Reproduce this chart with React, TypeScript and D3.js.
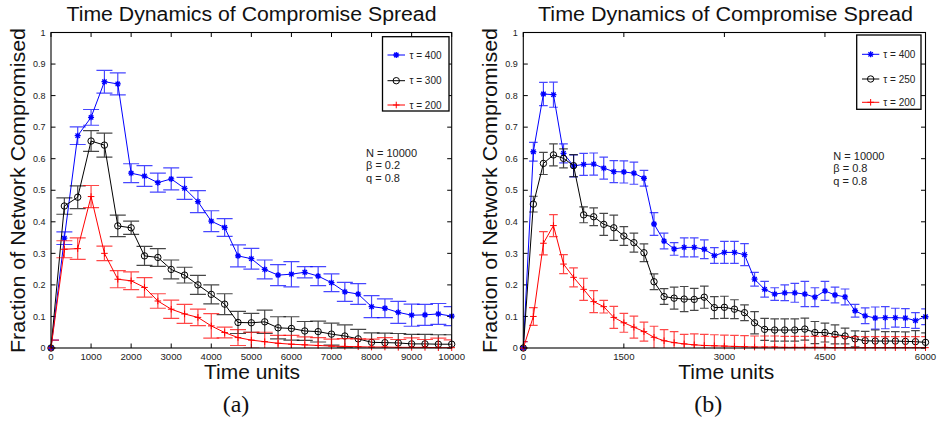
import React from "react";
import * as d3 from "d3";

// ---------- data ----------
const xTicksA = [0, 1000, 2000, 3000, 4000, 5000, 6000, 7000, 8000, 9000, 10000];
const xTicksB = [0, 1500, 3000, 4500, 6000];
const yTicks = [0, 0.1, 0.2, 0.3, 0.4, 0.5, 0.6, 0.7, 0.8, 0.9, 1];
const yTickLabels = ["0", "0.1", "0.2", "0.3", "0.4", "0.5", "0.6", "0.7", "0.8", "0.9", "1"];

const stepA = 10000 / 30;
const stepB = 150;

const blueA = [0, 0.348, 0.673, 0.731, 0.844, 0.837, 0.554, 0.545, 0.524, 0.536, 0.506, 0.464, 0.402, 0.382, 0.292, 0.283, 0.249, 0.231, 0.234, 0.240, 0.228, 0.207, 0.178, 0.171, 0.131, 0.126, 0.113, 0.104, 0.105, 0.108, 0.101];
const blueAErr = [0.025, 0.02, 0.028, 0.025, 0.036, 0.035, 0.03, 0.033, 0.03, 0.035, 0.035, 0.035, 0.033, 0.028, 0.035, 0.033, 0.03, 0.033, 0.04, 0.018, 0.03, 0.028, 0.03, 0.033, 0.035, 0.03, 0.035, 0.035, 0.033, 0.033, 0.03];
const blackA = [0, 0.450, 0.478, 0.656, 0.643, 0.387, 0.381, 0.292, 0.287, 0.249, 0.231, 0.200, 0.170, 0.139, 0.081, 0.080, 0.083, 0.064, 0.062, 0.054, 0.052, 0.044, 0.038, 0.029, 0.018, 0.017, 0.016, 0.013, 0.013, 0.012, 0.012];
const blackAErr = [0, 0.026, 0.036, 0.033, 0.038, 0.034, 0.021, 0.03, 0.028, 0.03, 0.025, 0.03, 0.03, 0.033, 0.035, 0.03, 0.037, 0.035, 0.037, 0.03, 0.033, 0.035, 0.035, 0.03, 0.03, 0.03, 0.03, 0.03, 0.03, 0.03, 0.03];
const redA = [0, 0.313, 0.315, 0.48, 0.300, 0.218, 0.213, 0.192, 0.149, 0.123, 0.108, 0.097, 0.070, 0.049, 0.033, 0.025, 0.020, 0.015, 0.012, 0.010, 0.008, 0.006, 0.005, 0.004, 0.003, 0.003, 0.002, 0.002, 0.002, 0.001, 0.001];
const redAErr = [0.025, 0.027, 0.034, 0.035, 0.023, 0.027, 0.028, 0.031, 0.023, 0.029, 0.03, 0.026, 0.039, 0.017, 0.025, 0.025, 0.03, 0.025, 0.028, 0.025, 0.025, 0.022, 0.025, 0.025, 0.025, 0.03, 0.025, 0.03, 0.025, 0.03, 0.025];

const blueB = [0, 0.622, 0.805, 0.803, 0.617, 0.577, 0.582, 0.583, 0.570, 0.559, 0.558, 0.554, 0.538, 0.393, 0.339, 0.314, 0.319, 0.319, 0.313, 0.293, 0.303, 0.303, 0.296, 0.218, 0.186, 0.171, 0.175, 0.175, 0.171, 0.161, 0.181, 0.168, 0.162, 0.118, 0.102, 0.095, 0.096, 0.096, 0.095, 0.087, 0.099];
const blueBErr = [0.02, 0.03, 0.037, 0.04, 0.03, 0.035, 0.035, 0.035, 0.035, 0.035, 0.035, 0.035, 0.025, 0.036, 0.025, 0.02, 0.03, 0.03, 0.03, 0.025, 0.035, 0.035, 0.035, 0.022, 0.025, 0.02, 0.025, 0.03, 0.04, 0.03, 0.03, 0.025, 0.025, 0.02, 0.025, 0.035, 0.035, 0.03, 0.03, 0.025, 0.025];
const blackB = [0, 0.456, 0.585, 0.612, 0.601, 0.578, 0.422, 0.416, 0.392, 0.381, 0.355, 0.334, 0.302, 0.210, 0.163, 0.158, 0.155, 0.154, 0.161, 0.128, 0.129, 0.123, 0.112, 0.080, 0.059, 0.057, 0.057, 0.057, 0.060, 0.049, 0.049, 0.043, 0.038, 0.029, 0.023, 0.022, 0.022, 0.022, 0.021, 0.020, 0.018];
const blackBErr = [0, 0.025, 0.035, 0.035, 0.03, 0.035, 0.025, 0.028, 0.035, 0.04, 0.03, 0.03, 0.028, 0.025, 0.025, 0.035, 0.04, 0.035, 0.035, 0.035, 0.035, 0.03, 0.025, 0.035, 0.035, 0.035, 0.035, 0.035, 0.035, 0.035, 0.03, 0.03, 0.025, 0.025, 0.03, 0.035, 0.03, 0.03, 0.03, 0.035, 0.03];
const redB = [0, 0.1, 0.332, 0.388, 0.266, 0.224, 0.186, 0.147, 0.131, 0.097, 0.080, 0.066, 0.052, 0.034, 0.023, 0.017, 0.013, 0.010, 0.008, 0.007, 0.006, 0.005, 0.004, 0.003, 0.003, 0.003, 0.002, 0.002, 0.002, 0.002, 0.002, 0.001, 0.001, 0.001, 0.001, 0.001, 0.001, 0.001, 0.001, 0.001, 0.001];
const redBErr = [0.02, 0.028, 0.037, 0.035, 0.03, 0.03, 0.035, 0.035, 0.02, 0.035, 0.03, 0.035, 0.03, 0.035, 0.035, 0.035, 0.03, 0.035, 0.035, 0.035, 0.035, 0.035, 0.035, 0.035, 0.035, 0.035, 0.035, 0.035, 0.035, 0.035, 0.035, 0.035, 0.035, 0.035, 0.035, 0.035, 0.035, 0.035, 0.035, 0.035, 0.035];

const legendA = ["τ = 400", "τ = 300", "τ = 200"];
const legendB = ["τ = 400", "τ = 250", "τ = 200"];
const annotA = ["N = 10000", "β = 0.2", "q = 0.8"];
const annotB = ["N = 10000", "β = 0.8", "q = 0.8"];

const SANS = "'Liberation Sans', Arial, Helvetica, sans-serif";

type Series = { vals: number[]; err: number[]; color: string; marker: string };

function Marker({ kind, x, y, color }: { kind: string; x: number; y: number; color: string }) {
  if (kind === "star") {
    const r = 3;
    const d = `M${x - r},${y}L${x + r},${y}M${x},${y - r}L${x},${y + r}M${x - 2.2},${y - 2.2}L${x + 2.2},${y + 2.2}M${x - 2.2},${y + 2.2}L${x + 2.2},${y - 2.2}`;
    return <path d={d} stroke={color} strokeWidth={1.3} fill="none" />;
  }
  if (kind === "circle") {
    return <circle cx={x} cy={y} r={3.2} stroke={color} strokeWidth={1} fill="none" />;
  }
  const r = 3.3;
  return <path d={`M${x - r},${y}L${x + r},${y}M${x},${y - r}L${x},${y + r}`} stroke={color} strokeWidth={1} fill="none" />;
}

function Panel(props: {
  id: string;
  x0: number; x1: number; xMax: number; step: number; xTicks: number[];
  series: Series[]; legend: string[]; annot: string[];
  cap: number; titleCx: number; titleLen: number; ylabX: number; xlabCx: number; subCx: number; sub: string;
  legendBox: { x: number; y: number; w: number; h: number; ly: number[]; lx0: number; lx1: number; tx: number };
  annotX: number; annotY: number;
}) {
  const y0 = 348, y1 = 32.5;
  const x = d3.scaleLinear().domain([0, props.xMax]).range([props.x0, props.x1]);
  const y = d3.scaleLinear().domain([0, 1]).range([y0, y1]);
  const line = d3.line<number>().x((_, i) => x(i * props.step)).y((v) => y(v));
  const tl = 4.5;
  const lb = props.legendBox;
  return (
    <g>
      <defs>
        <clipPath id={"clip" + props.id}>
          <rect x={props.x0} y={y1} width={props.x1 - props.x0} height={y0 - y1} />
        </clipPath>
      </defs>
      <text x={props.titleCx} y={21} fontFamily={SANS} fontSize={20} textAnchor="middle" textLength={props.titleLen} lengthAdjust="spacingAndGlyphs" fill="#111">Time Dynamics of Compromise Spread</text>
      <text transform={`translate(${props.ylabX},190.5) rotate(-90)`} fontFamily={SANS} fontSize={20} textAnchor="middle" textLength={325} lengthAdjust="spacingAndGlyphs" fill="#111">Fraction of Network Compromised</text>
      <text x={props.xlabCx} y={379} fontFamily={SANS} fontSize={20} textAnchor="middle" textLength={96} lengthAdjust="spacingAndGlyphs" fill="#111">Time units</text>
      <text x={props.subCx} y={412} fontFamily="'Liberation Serif', 'Times New Roman', serif" fontSize={24} textAnchor="middle" fill="#111">{props.sub}</text>
      {/* ticks */}
      {props.xTicks.map((t) => (
        <g key={"xt" + t}>
          <line x1={x(t)} x2={x(t)} y1={y0} y2={y0 - tl} stroke="#000" />
          <line x1={x(t)} x2={x(t)} y1={y1} y2={y1 + tl} stroke="#000" />
          <text x={x(t)} y={359.5} fontFamily={SANS} fontSize={9.6} textAnchor="middle" fill="#222">{t}</text>
        </g>
      ))}
      {yTicks.map((t, i) => (
        <g key={"yt" + t}>
          <line x1={props.x0} x2={props.x0 + tl} y1={y(t)} y2={y(t)} stroke="#000" />
          <line x1={props.x1} x2={props.x1 - tl} y1={y(t)} y2={y(t)} stroke="#000" />
          <text x={props.x0 - 5.5} y={y(t)} dy="0.35em" fontFamily={SANS} fontSize={9} textAnchor="end" fill="#222">{yTickLabels[i]}</text>
        </g>
      ))}
      {/* series */}
      {props.series.map((s, si) => (
        <g key={"s" + si}>
          <g clipPath={`url(#clip${props.id})`}>
            {s.vals.map((v, i) => {
              const cx = x(i * props.step);
              const e = s.err[i];
              if (!e) return null;
              const top = y(v + e), bot = y(v - e);
              return (
                <path key={i} d={`M${cx},${top}L${cx},${bot}M${cx - props.cap},${top}L${cx + props.cap},${top}M${cx - props.cap},${bot}L${cx + props.cap},${bot}`} stroke={s.color} strokeOpacity={0.72} strokeWidth={1.2} fill="none" />
              );
            })}
            <path d={line(s.vals) || ""} stroke={s.color} strokeWidth={1} fill="none" />
          </g>
          {s.vals.map((v, i) => (
            <Marker key={i} kind={s.marker} x={x(i * props.step)} y={y(v)} color={s.color} />
          ))}
        </g>
      ))}
      {/* frame */}
      <rect x={props.x0} y={y1} width={props.x1 - props.x0} height={y0 - y1} fill="none" stroke="#000" strokeWidth={1.1} />
      {/* legend */}
      <rect x={lb.x} y={lb.y} width={lb.w} height={lb.h} fill="#fff" stroke="#000" strokeWidth={1.3} />
      {props.series.map((s, i) => (
        <g key={"lg" + i}>
          <line x1={lb.lx0} x2={lb.lx1} y1={lb.ly[i]} y2={lb.ly[i]} stroke={s.color} strokeWidth={1} />
          <Marker kind={s.marker} x={(lb.lx0 + lb.lx1) / 2} y={lb.ly[i]} color={s.color} />
          <text x={lb.tx} y={lb.ly[i]} dy="0.35em" fontFamily={SANS} fontSize={10} fill="#222">{props.legend[i]}</text>
        </g>
      ))}
      {/* annotation */}
      {props.annot.map((a, i) => (
        <text key={"an" + i} x={props.annotX} y={props.annotY + i * 12.5} fontFamily={SANS} fontSize={11} fill="#222">{a}</text>
      ))}
    </g>
  );
}

export default function App() {
  const seriesA: Series[] = [
    { vals: blueA, err: blueAErr, color: "#0000ff", marker: "star" },
    { vals: blackA, err: blackAErr, color: "#000000", marker: "circle" },
    { vals: redA, err: redAErr, color: "#ff0000", marker: "plus" },
  ];
  const seriesB: Series[] = [
    { vals: blueB, err: blueBErr, color: "#0000ff", marker: "star" },
    { vals: blackB, err: blackBErr, color: "#000000", marker: "circle" },
    { vals: redB, err: redBErr, color: "#ff0000", marker: "plus" },
  ];
  return (
    <svg width={937} height={423} style={{ position: "absolute", left: 0, top: 0, background: "#fff" }}>
      <rect width={937} height={423} fill="#fff" />
      <Panel id="a" x0={51} x1={451.7} xMax={10000} step={stepA} xTicks={xTicksA}
        series={seriesA} legend={legendA} annot={annotA} cap={8}
        titleCx={251.5} titleLen={370} ylabX={25} xlabCx={252} subCx={236} sub="(a)"
        legendBox={{ x: 382.5, y: 36.7, w: 66.5, h: 74.3, ly: [55, 80.7, 105], lx0: 387.5, lx1: 405, tx: 409.5 }}
        annotX={366} annotY={156.7} />
      <Panel id="b" x0={523.3} x1={925.5} xMax={6000} step={stepB} xTicks={xTicksB}
        series={seriesB} legend={legendB} annot={annotB} cap={4.3}
        titleCx={725.5} titleLen={375} ylabX={496.7} xlabCx={726.3} subCx={708.3} sub="(b)"
        legendBox={{ x: 856.7, y: 35, w: 64.3, h: 74.3, ly: [54.3, 79, 102.3], lx0: 862, lx1: 879.3, tx: 883.3 }}
        annotX={833.3} annotY={159.7} />
    </svg>
  );
}
